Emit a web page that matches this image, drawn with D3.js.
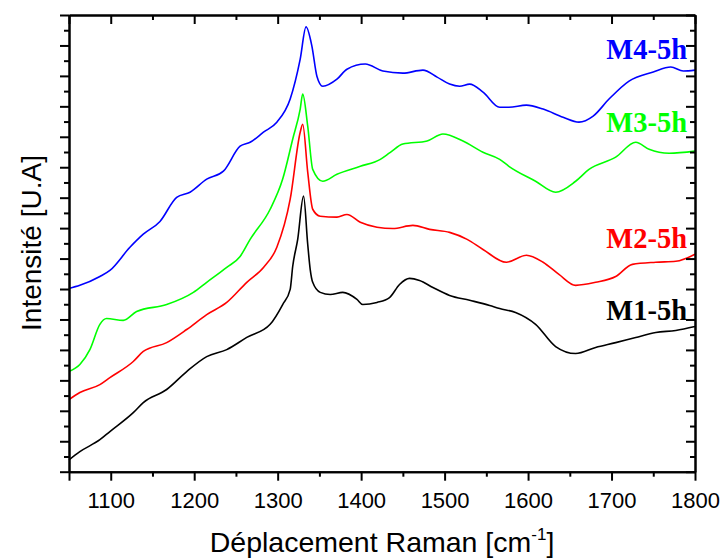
<!DOCTYPE html>
<html>
<head>
<meta charset="utf-8">
<script src="https://cdn.jsdelivr.net/npm/d3@7"></script>
<style>
  body { margin: 0; background: #fff; }
  svg { display: block; }
</style>
</head>
<body>
<svg id="chart" width="726" height="560"></svg>
<script>
// ---- data ----
const m1X = [1050,1063,1087,1099,1127,1139,1167,1191,1215,1239,1263,1291,1306,1315,1318,1324,1331,1336,1339,1342,1351,1363,1378,1395,1402,1419,1434,1446,1458,1470,1486,1506,1530,1554,1566,1585,1609,1633,1657,1681,1705,1729,1753,1777,1800];
const m1Y = [0.39,0.66,1.05,1.32,1.94,2.27,2.70,3.29,3.78,4.01,4.41,4.84,5.49,5.99,6.74,7.63,9.05,7.47,6.64,6.22,5.89,5.82,5.89,5.66,5.49,5.56,5.72,6.15,6.35,6.28,6.05,5.79,5.63,5.46,5.36,5.23,4.84,4.11,3.88,4.08,4.24,4.41,4.57,4.64,4.77];

const m2X = [1050,1063,1087,1099,1127,1139,1167,1191,1215,1239,1263,1283,1299,1315,1327,1330,1336,1342,1351,1371,1383,1399,1419,1438,1462,1482,1506,1527,1546,1574,1598,1618,1637,1657,1681,1705,1725,1753,1777,1800];
const m2Y = [2.37,2.60,2.86,3.09,3.62,3.95,4.24,4.67,5.16,5.56,6.22,6.71,7.37,8.95,11.15,11.41,9.84,8.62,8.39,8.36,8.45,8.19,8.03,7.99,8.09,7.96,7.86,7.63,7.30,6.88,7.11,6.88,6.48,6.12,6.22,6.41,6.81,6.88,6.91,7.14];

const m3X = [1050,1063,1075,1087,1095,1115,1131,1167,1199,1215,1239,1255,1267,1291,1306,1318,1327,1330,1336,1342,1354,1371,1399,1423,1435,1450,1479,1498,1522,1546,1566,1577,1609,1633,1657,1673,1705,1729,1745,1769,1800];
const m3Y = [3.29,3.52,4.01,4.84,5.03,4.97,5.26,5.49,5.89,6.22,6.71,7.07,7.63,8.62,9.61,10.92,11.91,12.40,11.35,9.93,9.54,9.77,10.03,10.26,10.49,10.76,10.86,11.09,10.86,10.49,10.26,10.03,9.54,9.18,9.54,9.93,10.33,10.82,10.59,10.46,10.53];

const m4X = [1050,1063,1087,1099,1123,1139,1159,1179,1195,1215,1235,1255,1267,1283,1299,1315,1327,1334,1341,1347,1354,1371,1383,1405,1426,1450,1474,1491,1506,1518,1530,1546,1566,1577,1598,1618,1642,1661,1678,1697,1721,1750,1771,1786,1800];
const m4Y = [6.02,6.12,6.41,6.61,7.37,7.80,8.22,9.01,9.18,9.61,9.87,10.69,10.82,11.15,11.48,12.24,13.55,14.61,13.98,12.99,12.66,12.89,13.22,13.39,13.16,13.09,13.19,12.96,12.73,12.66,12.73,12.47,11.97,11.97,12.04,11.91,11.64,11.48,11.68,12.24,12.83,13.13,13.29,13.16,13.19];

const seriesNames = ["M1-5h","M2-5h","M3-5h","M4-5h"];
const seriesColors = ["#000000","#ff0000","#00ff00","#0000ff"];
const xMajorTicks = [1050,1100,1200,1300,1400,1500,1600,1700,1800];
const xTickLabels = ["","1100","1200","1300","1400","1500","1600","1700","1800"];
const xMinorTicks = [1150,1250,1350,1450,1550,1650,1750];
const yMajorTicks = [0,1,2,3,4,5,6,7,8,9,10,11,12,13,14,15];
const yMinorTicks = [0.5,1.5,2.5,3.5,4.5,5.5,6.5,7.5,8.5,9.5,10.5,11.5,12.5,13.5,14.5];
const labelYValues = [4.97, 7.35, 11.15, 13.55]; // label baseline positions in data units

// ---- layout ----
const pLeft = 69, pRight = 695, pTop = 15, pBottom = 471.7;
const svg = d3.select("#chart");
const x = d3.scaleLinear().domain([1050, 1800]).range([pLeft, pRight]);
const y = d3.scaleLinear().domain([0, 15]).range([pBottom, pTop]);

const seriesX = [m1X, m2X, m3X, m4X];
const seriesY = [m1Y, m2Y, m3Y, m4Y];

const line = d3.line().x(d => x(d[0])).y(d => y(d[1])).curve(d3.curveMonotoneX);

seriesX.forEach((xs, i) => {
  const pts = xs.map((v, j) => [v, seriesY[i][j]]);
  svg.append("path")
    .attr("d", line(pts))
    .attr("fill", "none")
    .attr("stroke", seriesColors[i])
    .attr("stroke-width", 1.6)
    .attr("stroke-linejoin", "round");
});

// axes
function styleAxis(g) {
  g.selectAll(".domain").attr("stroke", "#000").attr("stroke-width", 2);
  g.selectAll(".tick line").attr("stroke", "#000").attr("stroke-width", 2);
}
const fmtX = (d) => xTickLabels[xMajorTicks.indexOf(d)];

// bottom
const gB = svg.append("g").attr("transform", `translate(0,${pBottom})`)
  .call(d3.axisBottom(x).tickValues(xMajorTicks).tickFormat(fmtX).tickSize(9).tickSizeOuter(0).tickPadding(12));
styleAxis(gB);
gB.selectAll("text").attr("font-family", "Liberation Sans, Arial, sans-serif").attr("font-size", 22).attr("fill", "#000");
const gBm = svg.append("g").attr("transform", `translate(0,${pBottom})`)
  .call(d3.axisBottom(x).tickValues(xMinorTicks).tickFormat("").tickSize(5).tickSizeOuter(0));
styleAxis(gBm);

// top
const gT = svg.append("g").attr("transform", `translate(0,${pTop})`)
  .call(d3.axisTop(x).tickValues(xMajorTicks).tickFormat("").tickSize(-9).tickSizeOuter(0));
styleAxis(gT);
const gTm = svg.append("g").attr("transform", `translate(0,${pTop})`)
  .call(d3.axisTop(x).tickValues(xMinorTicks).tickFormat("").tickSize(-5).tickSizeOuter(0));
styleAxis(gTm);

// left
const gL = svg.append("g").attr("transform", `translate(${pLeft},0)`)
  .call(d3.axisLeft(y).tickValues(yMajorTicks).tickFormat("").tickSize(9).tickSizeOuter(0));
styleAxis(gL);
const gLm = svg.append("g").attr("transform", `translate(${pLeft},0)`)
  .call(d3.axisLeft(y).tickValues(yMinorTicks).tickFormat("").tickSize(5).tickSizeOuter(0));
styleAxis(gLm);

// right
const gR = svg.append("g").attr("transform", `translate(${pRight},0)`)
  .call(d3.axisRight(y).tickValues(yMajorTicks).tickFormat("").tickSize(-9).tickSizeOuter(0));
styleAxis(gR);
const gRm = svg.append("g").attr("transform", `translate(${pRight},0)`)
  .call(d3.axisRight(y).tickValues(yMinorTicks).tickFormat("").tickSize(-5).tickSizeOuter(0));
styleAxis(gRm);

// series labels
seriesNames.forEach((name, i) => {
  svg.append("text")
    .attr("x", pRight - 8)
    .attr("y", y(labelYValues[i]))
    .attr("text-anchor", "end")
    .attr("font-family", "Liberation Serif, Times New Roman, serif")
    .attr("font-weight", "bold")
    .attr("font-size", 28.5)
    .attr("fill", seriesColors[i])
    .text(name);
});

// axis titles
const xt = svg.append("text")
  .attr("x", (pLeft + pRight) / 2)
  .attr("y", 552)
  .attr("text-anchor", "middle")
  .attr("font-family", "Liberation Sans, Arial, sans-serif")
  .attr("font-size", 28.5)
  .attr("fill", "#000");
xt.append("tspan").text("Déplacement Raman [cm");
xt.append("tspan").attr("dy", -12).attr("font-size", 17).text("-1");
xt.append("tspan").attr("dy", 12).text("]");

svg.append("text")
  .attr("transform", `translate(41,243) rotate(-90)`)
  .attr("text-anchor", "middle")
  .attr("font-family", "Liberation Sans, Arial, sans-serif")
  .attr("font-size", 28)
  .attr("fill", "#000")
  .text("Intensité [U.A]");
</script>
</body>
</html>
